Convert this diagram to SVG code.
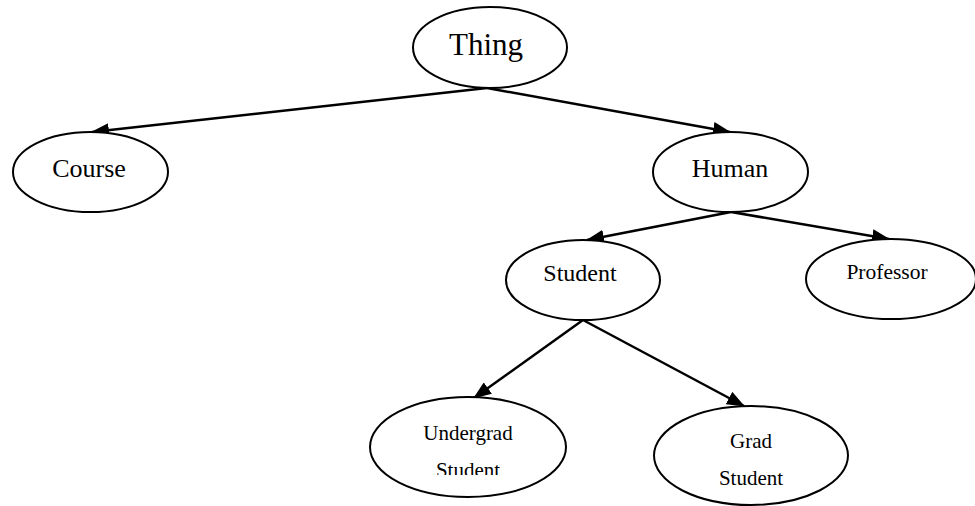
<svg xmlns="http://www.w3.org/2000/svg" width="975" height="506" viewBox="0 0 975 506">
  <style>
    .node ellipse { fill: #ffffff; stroke: #000000; stroke-width: 2; }
    .node text { font-family: "Liberation Serif", "Times New Roman", Times, serif; fill: #000000; text-anchor: middle; }
    .edge { stroke: #000000; stroke-width: 2.5; fill: none; marker-end: url(#arrow); }
  </style>
  <defs>
    <marker id="arrow" markerUnits="userSpaceOnUse" markerWidth="18" markerHeight="14" viewBox="0 0 18 14" refX="17" refY="7" orient="auto">
      <path d="M0,0 L18,7 L0,14 z" fill="#000000"/>
    </marker>
    <!-- the lower line of the Undergrad label is cut off by its text box -->
    <clipPath id="clip-undergrad">
      <rect x="380" y="400" width="180" height="75"/>
    </clipPath>
  </defs>

  <g id="connectors">
    <line class="edge" x1="487" y1="88" x2="92" y2="132"/>
    <line class="edge" x1="487" y1="88" x2="730" y2="132"/>
    <line class="edge" x1="731" y1="212" x2="587" y2="240"/>
    <line class="edge" x1="731" y1="212" x2="889" y2="239"/>
    <line class="edge" x1="583" y1="320" x2="474" y2="398"/>
    <line class="edge" x1="583" y1="320" x2="744" y2="406"/>
  </g>

  <g id="node-thing" class="node">
    <ellipse cx="490" cy="47.5" rx="77" ry="40.5"/>
    <text x="486" y="55" font-size="31">Thing</text>
  </g>

  <g id="node-course" class="node">
    <ellipse cx="90.5" cy="172" rx="77.5" ry="40"/>
    <text x="89" y="177" font-size="26">Course</text>
  </g>

  <g id="node-human" class="node">
    <ellipse cx="730.5" cy="172" rx="77.5" ry="40"/>
    <text x="730" y="177" font-size="26">Human</text>
  </g>

  <g id="node-student" class="node">
    <ellipse cx="583" cy="280" rx="77" ry="40"/>
    <text x="580" y="281" font-size="24">Student</text>
  </g>

  <g id="node-professor" class="node">
    <ellipse cx="891" cy="279" rx="85" ry="40"/>
    <text x="887" y="279" font-size="21.5">Professor</text>
  </g>

  <g id="node-undergrad-student" class="node">
    <ellipse cx="468" cy="447" rx="98" ry="50"/>
    <g clip-path="url(#clip-undergrad)">
      <text x="468" y="440" font-size="21">Undergrad</text>
      <text x="468" y="477" font-size="21">Student</text>
    </g>
  </g>

  <g id="node-grad-student" class="node">
    <ellipse cx="751" cy="455.5" rx="97" ry="49.5"/>
    <text x="751" y="448" font-size="21">Grad</text>
    <text x="751" y="485" font-size="21">Student</text>
  </g>
</svg>
